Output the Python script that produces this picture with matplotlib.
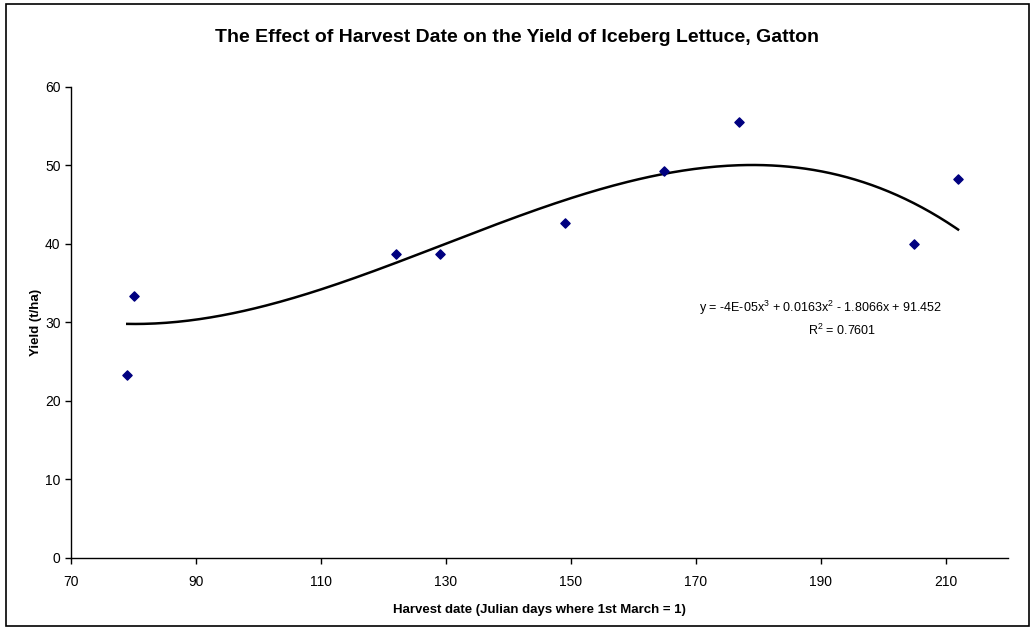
import numpy as np
import matplotlib
matplotlib.use("Agg")
import matplotlib.pyplot as plt
from matplotlib.patches import Rectangle

plt.rcParams['font.family'] = ['Liberation Sans', 'DejaVu Sans']
plt.rcParams['mathtext.fontset'] = 'custom'
plt.rcParams['mathtext.rm'] = 'Liberation Sans'
plt.rcParams['mathtext.it'] = 'Liberation Sans'
plt.rcParams['mathtext.default'] = 'regular'

# harvest date (Julian days, 1st March = 1) and yield (t/ha)
harvest_day = [79, 80, 122, 129, 149, 165, 177, 205, 212]
yield_tha = [23.3, 33.3, 38.7, 38.7, 42.6, 49.3, 55.5, 40.0, 48.2]

# polynomial trendline as shown on the chart (cubic term unrounded)
trend_coef = [-4.19e-05, 0.0163, -1.8066, 91.452]

x_ticks = [70, 90, 110, 130, 150, 170, 190, 210]
y_ticks = [0, 10, 20, 30, 40, 50, 60]

title = "The Effect of Harvest Date on the Yield of Iceberg Lettuce, Gatton"
eq_text = "y = -4E-05x$^3$ + 0.0163x$^2$ - 1.8066x + 91.452"
r2_text = "R$^2$ = 0.7601"

fig = plt.figure(figsize=(10.34, 6.28), dpi=100)
ax = fig.add_axes([0.0687, 0.1115, 0.9062, 0.7505])

xs = np.linspace(min(harvest_day), max(harvest_day), 300)
ax.plot(xs, np.polyval(trend_coef, xs), color='black', linewidth=1.8, zorder=2)

ax.scatter(harvest_day, yield_tha, marker='D', s=22, color='#000080', zorder=3)

ax.set_xlim(70, 220)
ax.set_ylim(0, 60)
ax.set_xticks(x_ticks)
ax.set_yticks(y_ticks)
ax.tick_params(direction='out', length=4, width=1, labelsize=10, colors='black')
ax.tick_params(axis='x', pad=8)
for side in ['top', 'right']:
    ax.spines[side].set_visible(False)
for side in ['left', 'bottom']:
    ax.spines[side].set_color('black')
    ax.spines[side].set_linewidth(1)

ax.set_xlabel("Harvest date (Julian days where 1st March = 1)", fontsize=9.5,
              fontweight='bold', labelpad=11)
ax.set_ylabel("Yield (t/ha)", fontsize=9.5, fontweight='bold', labelpad=2)

fig.text(0.5, 1 - 38 / 628, title, ha='center', va='center', fontsize=14,
         fontweight='bold')

fig.text(821 / 1034, 1 - 308 / 628, eq_text, ha='center', va='center',
         fontsize=9)
fig.text(842 / 1034, 1 - 330 / 628, r2_text, ha='center', va='center',
         fontsize=9)

# chart area border
fig.patches.append(Rectangle((6 / 1034, 2 / 628), 1023 / 1034, 622 / 628,
                             transform=fig.transFigure, fill=False,
                             edgecolor='black', linewidth=1.2))

fig.savefig("out.png", dpi=100)
